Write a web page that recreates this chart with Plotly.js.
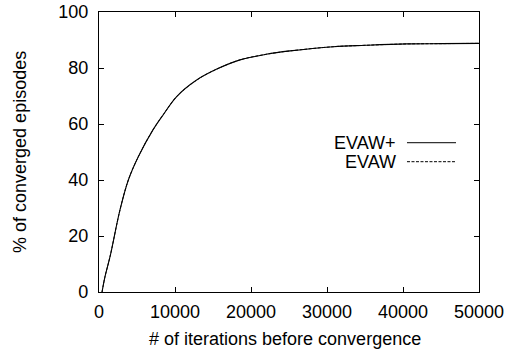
<!DOCTYPE html>
<html>
<head>
<meta charset="utf-8">
<script src="https://cdn.plot.ly/plotly-3.0.1.min.js"></script>
<style>
  html, body { margin: 0; padding: 0; background: #fff; }
  #chart { width: 511px; height: 352px; }
</style>
</head>
<body>
<div id="chart"></div>
<script>
// Data
const iterations = [400, 790, 1450, 2760, 3860, 5170, 7100, 8500, 10220, 12850, 15500, 18550, 22000, 25130, 30830, 35000, 40480, 45000, 50000];
const evawPlus   = [0, 5.5, 12.6, 29.3, 40, 48.3, 57.9, 63.5, 69.8, 75.7, 79.6, 82.9, 84.9, 86.1, 87.6, 88.1, 88.6, 88.7, 88.8];
const evaw       = [0, 5.5, 12.6, 29.3, 40, 48.3, 57.9, 63.5, 69.8, 75.7, 79.6, 82.9, 84.9, 86.1, 87.6, 88.1, 88.6, 88.7, 88.8];
const xTicks = [0, 10000, 20000, 30000, 40000, 50000];
const yTicks = [0, 20, 40, 60, 80, 100];
const seriesNames = ["EVAW+", "EVAW"];

const FONT = "'Liberation Sans', Arial, Helvetica, sans-serif";
const DASH = '3px,1.5px';

const traces = [
  { x: iterations, y: evaw, type: 'scatter', mode: 'lines', name: seriesNames[1],
    line: { color: '#000', width: 1, dash: DASH, shape: 'spline', smoothing: 1 }, showlegend: false, hoverinfo: 'skip' },
  { x: iterations, y: evawPlus, type: 'scatter', mode: 'lines', name: seriesNames[0],
    line: { color: '#000', width: 1.1, shape: 'spline', smoothing: 1 }, showlegend: false, hoverinfo: 'skip' }
];

const axisCommon = {
  showgrid: false, zeroline: false, showline: true, linecolor: '#000', linewidth: 1.2,
  mirror: 'ticks', ticks: 'inside', ticklen: 5, tickwidth: 1, tickcolor: '#000',
  tickfont: { family: FONT, size: 18, color: '#000' }
};

// Legend (gnuplot style: text on the left, sample line on the right)
const legTextX = 0.787, legLineX0 = 0.8105, legLineX1 = 0.9395;
const legRows = [0.5332, 0.4654];
const legDash = ['solid', DASH];

const annotations = seriesNames.map((n, i) => ({
  xref: 'paper', yref: 'paper', x: legTextX, y: legRows[i], xanchor: 'right', yanchor: 'middle',
  text: n, showarrow: false, font: { family: FONT, size: 18, color: '#000' }
}));
annotations.push({
  xref: 'paper', yref: 'paper', x: 0.49, y: -0.168, xanchor: 'center', yanchor: 'middle',
  text: '# of iterations before convergence', showarrow: false,
  font: { family: FONT, size: 18, color: '#000' }
});
annotations.push({
  xref: 'paper', yref: 'paper', x: -0.208, y: 0.5, xanchor: 'center', yanchor: 'middle',
  text: '% of converged episodes', showarrow: false, textangle: -90,
  font: { family: FONT, size: 18, color: '#000' }
});

const shapes = seriesNames.map((n, i) => ({
  type: 'line', xref: 'paper', yref: 'paper', x0: legLineX0, x1: legLineX1, y0: legRows[i], y1: legRows[i],
  line: { color: '#000', width: 1, dash: legDash[i] }
}));

const layout = {
  width: 511, height: 352,
  margin: { l: 99, r: 32, t: 12, b: 60 },
  paper_bgcolor: '#fff', plot_bgcolor: '#fff',
  font: { family: FONT, size: 18, color: '#000' },
  showlegend: false,
  xaxis: Object.assign({}, axisCommon, {
    range: [0, 50000], tickvals: xTicks, ticktext: xTicks.map(String), ticklabelstandoff: 3
  }),
  yaxis: Object.assign({}, axisCommon, {
    range: [0, 100], tickvals: yTicks, ticktext: yTicks.map(String), ticklabelstandoff: 6
  }),
  annotations: annotations,
  shapes: shapes
};

Plotly.newPlot('chart', traces, layout, { staticPlot: true, displayModeBar: false });
</script>
</body>
</html>
